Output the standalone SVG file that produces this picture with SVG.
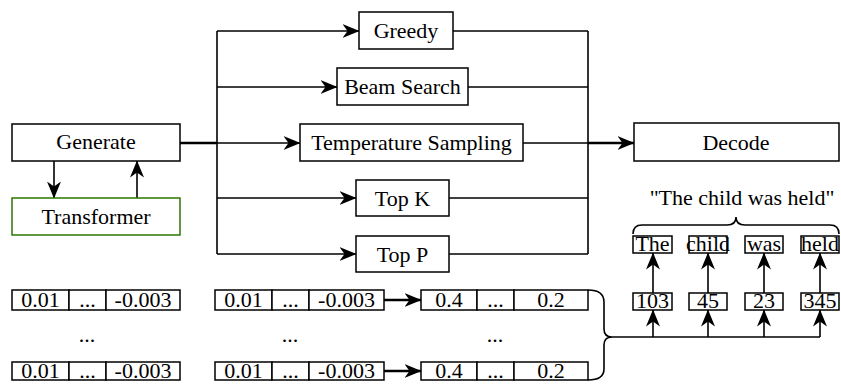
<svg xmlns="http://www.w3.org/2000/svg" width="841" height="384" viewBox="0 0 841 384">
<style>
  .box{fill:#fff;stroke:#000;stroke-width:1.5}
  .green{fill:#fff;stroke:#2d7600;stroke-width:1.5}
  .ln{fill:none;stroke:#000;stroke-width:1.6}
  .thick{fill:none;stroke:#000;stroke-width:2.4}
  text{font-family:"Liberation Serif","Times New Roman",serif;font-size:22px;fill:#000;text-anchor:middle}
</style>
<defs>
  <marker id="arr" markerUnits="userSpaceOnUse" markerWidth="17" markerHeight="16" viewBox="0 0 17 16" refX="16.5" refY="8" orient="auto">
    <path d="M0,1 L17,8 L0,15 L5,8 Z" fill="#000"/>
  </marker>
</defs>
<rect width="841" height="384" fill="#fff"/>

<g id="connectors">
  <line class="ln" x1="54" y1="161" x2="54" y2="198" marker-end="url(#arr)"/>
  <line class="ln" x1="137" y1="198" x2="137" y2="161" marker-end="url(#arr)"/>
  <line class="thick" x1="180" y1="143" x2="217" y2="143"/>
  <line class="ln" x1="217" y1="31" x2="217" y2="254"/>
  <line class="ln" x1="217" y1="31" x2="359" y2="31" marker-end="url(#arr)"/>
  <line class="ln" x1="217" y1="87" x2="337" y2="87" marker-end="url(#arr)"/>
  <line class="ln" x1="217" y1="143" x2="300" y2="143" marker-end="url(#arr)"/>
  <line class="ln" x1="217" y1="198" x2="356" y2="198" marker-end="url(#arr)"/>
  <line class="ln" x1="217" y1="254" x2="356" y2="254" marker-end="url(#arr)"/>
  <line class="ln" x1="453" y1="31" x2="588" y2="31"/>
  <line class="ln" x1="468" y1="87" x2="588" y2="87"/>
  <line class="ln" x1="523" y1="143" x2="588" y2="143"/>
  <line class="ln" x1="449" y1="198" x2="588" y2="198"/>
  <line class="ln" x1="449" y1="254" x2="588" y2="254"/>
  <line class="ln" x1="588" y1="31" x2="588" y2="254"/>
  <line class="thick" x1="588" y1="143" x2="634" y2="143" marker-end="url(#arr)"/>
  <line class="thick" x1="384" y1="300" x2="421" y2="300" marker-end="url(#arr)"/>
  <line class="thick" x1="384" y1="371" x2="421" y2="371" marker-end="url(#arr)"/>
  <path class="ln" d="M588,290 Q604,290 604,302 L604,329 Q604,337 612,337 Q604,337 604,345 L604,369 Q604,380 588,380"/>
  <line class="ln" x1="612" y1="337" x2="820" y2="337"/>
  <line class="ln" x1="653" y1="337" x2="653" y2="310" marker-end="url(#arr)"/>
  <line class="ln" x1="708" y1="337" x2="708" y2="310" marker-end="url(#arr)"/>
  <line class="ln" x1="764" y1="337" x2="764" y2="310" marker-end="url(#arr)"/>
  <line class="ln" x1="820" y1="337" x2="820" y2="310" marker-end="url(#arr)"/>
  <line class="ln" x1="653" y1="293" x2="653" y2="253" marker-end="url(#arr)"/>
  <line class="ln" x1="708" y1="293" x2="708" y2="253" marker-end="url(#arr)"/>
  <line class="ln" x1="764" y1="293" x2="764" y2="253" marker-end="url(#arr)"/>
  <line class="ln" x1="820" y1="293" x2="820" y2="253" marker-end="url(#arr)"/>
  <path class="ln" d="M633,234 Q633,225 642,225 L727,225 Q736,225 736,217 Q736,225 745,225 L830,225 Q839,225 839,234"/>
</g>

<g id="generate"><rect class="box" x="12" y="124" width="168" height="37"/><text x="96" y="149">Generate</text></g>
<g id="transformer"><rect class="green" x="12" y="198" width="168" height="37"/><text x="96" y="224">Transformer</text></g>
<g id="greedy"><rect class="box" x="359" y="12" width="94" height="37"/><text x="406" y="38">Greedy</text></g>
<g id="beam"><rect class="box" x="337" y="68" width="131" height="37"/><text x="402.5" y="94">Beam Search</text></g>
<g id="temperature"><rect class="box" x="300" y="124" width="223" height="37"/><text x="411.5" y="150">Temperature Sampling</text></g>
<g id="topk"><rect class="box" x="356" y="180" width="93" height="36"/><text x="402.5" y="206">Top K</text></g>
<g id="topp"><rect class="box" x="356" y="236" width="93" height="36"/><text x="402.5" y="262">Top P</text></g>
<g id="decode"><rect class="box" x="634" y="123" width="205" height="38"/><text x="736" y="150">Decode</text></g>
<g id="sentence"><text x="742" y="205">"The child was held"</text></g>

<g id="tokens">
  <rect class="box" x="633" y="236" width="39" height="17"/><text x="652.5" y="251">The</text>
  <rect class="box" x="689" y="236" width="38" height="17"/><text x="708" y="251">child</text>
  <rect class="box" x="745" y="236" width="38" height="17"/><text x="764" y="251">was</text>
  <rect class="box" x="801" y="236" width="38" height="17"/><text x="820" y="251">held</text>
</g>
<g id="ids">
  <rect class="box" x="633" y="293" width="39" height="17"/><text x="652.5" y="308">103</text>
  <rect class="box" x="689" y="293" width="38" height="17"/><text x="708" y="308">45</text>
  <rect class="box" x="745" y="293" width="38" height="17"/><text x="764" y="308">23</text>
  <rect class="box" x="801" y="293" width="38" height="17"/><text x="820" y="308">345</text>
</g>

<g id="emb-left">
  <rect class="box" x="12" y="290" width="57" height="20"/><text x="40.5" y="307">0.01</text>
  <rect class="box" x="69" y="290" width="37" height="20"/><text x="87.5" y="307">...</text>
  <rect class="box" x="106" y="290" width="74" height="20"/><text x="143" y="307">-0.003</text>
  <text x="87" y="342">...</text>
  <rect class="box" x="12" y="362" width="57" height="18"/><text x="40.5" y="378">0.01</text>
  <rect class="box" x="69" y="362" width="37" height="18"/><text x="87.5" y="378">...</text>
  <rect class="box" x="106" y="362" width="74" height="18"/><text x="143" y="378">-0.003</text>
</g>
<g id="emb-mid">
  <rect class="box" x="215" y="290" width="57" height="20"/><text x="243.5" y="307">0.01</text>
  <rect class="box" x="272" y="290" width="37" height="20"/><text x="290.5" y="307">...</text>
  <rect class="box" x="309" y="290" width="75" height="20"/><text x="346.5" y="307">-0.003</text>
  <text x="290" y="342">...</text>
  <rect class="box" x="215" y="362" width="57" height="18"/><text x="243.5" y="378">0.01</text>
  <rect class="box" x="272" y="362" width="37" height="18"/><text x="290.5" y="378">...</text>
  <rect class="box" x="309" y="362" width="75" height="18"/><text x="346.5" y="378">-0.003</text>
</g>
<g id="probs">
  <rect class="box" x="421" y="290" width="56" height="20"/><text x="449" y="307">0.4</text>
  <rect class="box" x="477" y="290" width="37" height="20"/><text x="495.5" y="307">...</text>
  <rect class="box" x="514" y="290" width="74" height="20"/><text x="551" y="307">0.2</text>
  <text x="495" y="342">...</text>
  <rect class="box" x="421" y="362" width="56" height="18"/><text x="449" y="378">0.4</text>
  <rect class="box" x="477" y="362" width="37" height="18"/><text x="495.5" y="378">...</text>
  <rect class="box" x="514" y="362" width="74" height="18"/><text x="551" y="378">0.2</text>
</g>
</svg>
